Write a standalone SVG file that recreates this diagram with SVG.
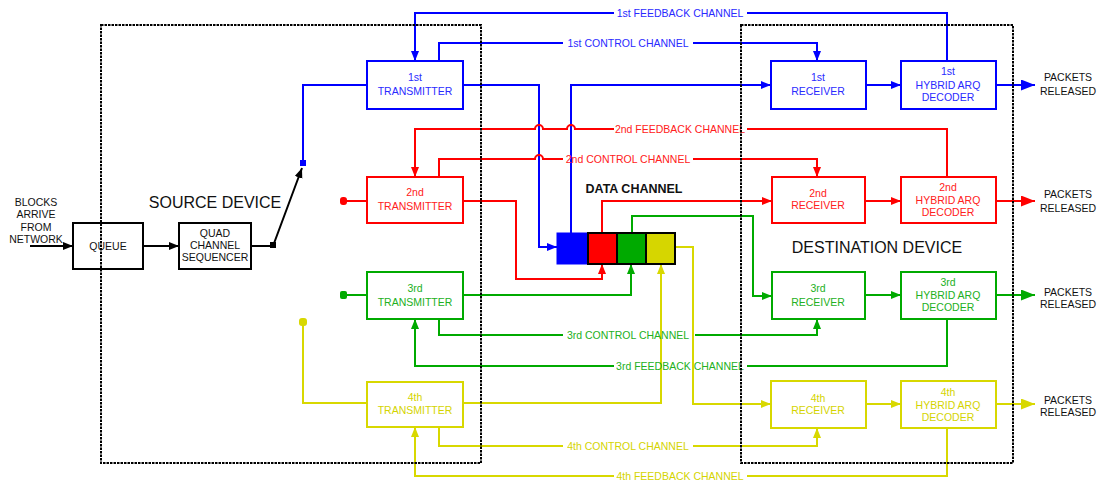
<svg xmlns="http://www.w3.org/2000/svg" width="1099" height="484" viewBox="0 0 1099 484">
<style>
text{font-family:"Liberation Sans",Arial,sans-serif;font-size:10.5px;text-anchor:middle}
.big{font-size:16px;fill:#111}
.blk{fill:#111}
.ln{fill:none;stroke-width:2}
.b{stroke:#0000ff}.r{stroke:#ff0000}.g{stroke:#00aa00}.y{stroke:#d8d800}.k{stroke:#000}
.tb{fill:#2a2aff}.tr{fill:#ff2020}.tg{fill:#22b022}.ty{fill:#d4d400}
.box{fill:#fff;stroke-width:2}
.dash{fill:none;stroke:#000;stroke-width:2;stroke-dasharray:2.5 1}
</style>
<defs>
<marker id="ab" markerUnits="userSpaceOnUse" markerWidth="12" markerHeight="10" refX="10" refY="4" orient="auto"><path d="M0,0 L10,4 L0,8 Z" fill="#0000ff"/></marker>
<marker id="ar" markerUnits="userSpaceOnUse" markerWidth="12" markerHeight="10" refX="10" refY="4" orient="auto"><path d="M0,0 L10,4 L0,8 Z" fill="#ff0000"/></marker>
<marker id="ag" markerUnits="userSpaceOnUse" markerWidth="12" markerHeight="10" refX="10" refY="4" orient="auto"><path d="M0,0 L10,4 L0,8 Z" fill="#00aa00"/></marker>
<marker id="ay" markerUnits="userSpaceOnUse" markerWidth="12" markerHeight="10" refX="10" refY="4" orient="auto"><path d="M0,0 L10,4 L0,8 Z" fill="#d8d800"/></marker>
<marker id="ak" markerUnits="userSpaceOnUse" markerWidth="12" markerHeight="10" refX="10" refY="4" orient="auto"><path d="M0,0 L10,4 L0,8 Z" fill="#000"/></marker>
<marker id="Bb" markerUnits="userSpaceOnUse" markerWidth="16" markerHeight="12" refX="14" refY="5.5" orient="auto"><path d="M0,0 L14,5.5 L0,11 Z" fill="#0000ff"/></marker>
<marker id="Br" markerUnits="userSpaceOnUse" markerWidth="16" markerHeight="12" refX="14" refY="5.5" orient="auto"><path d="M0,0 L14,5.5 L0,11 Z" fill="#ff0000"/></marker>
<marker id="Bg" markerUnits="userSpaceOnUse" markerWidth="16" markerHeight="12" refX="14" refY="5.5" orient="auto"><path d="M0,0 L14,5.5 L0,11 Z" fill="#00aa00"/></marker>
<marker id="By" markerUnits="userSpaceOnUse" markerWidth="16" markerHeight="12" refX="14" refY="5.5" orient="auto"><path d="M0,0 L14,5.5 L0,11 Z" fill="#d8d800"/></marker>
</defs>

<g id="connectors">
<path class="ln k" d="M30 246 H73" marker-end="url(#ak)"/>
<path class="ln k" d="M143 246 H179" marker-end="url(#ak)"/>
<path class="ln k" d="M251 246 H273 L302 168" marker-end="url(#ak)"/>
<rect x="270" y="242" width="6" height="6" fill="#000"/>
<path class="ln b" d="M303 164 V85 H367"/>
<rect x="300" y="160" width="6" height="6" fill="#0000ff"/>
<path class="ln b" d="M463 85 H539 V247 H557" marker-end="url(#ab)"/>
<path class="ln b" d="M571 233 V85 H771" marker-end="url(#ab)"/>
<path class="ln b" d="M866 85 H901" marker-end="url(#ab)"/>
<path class="ln b" d="M996 85 H1035" marker-end="url(#Bb)"/>
<path class="ln b" d="M947 61 V13 H747"/>
<path class="ln b" d="M614 13 H415 V61" marker-end="url(#ab)"/>
<path class="ln b" d="M439 61 V43 H563"/>
<path class="ln b" d="M693 43 H817 V61" marker-end="url(#ab)"/>
<path class="ln r" d="M344 201 H367"/>
<rect x="340" y="197" width="7" height="8" rx="3" fill="#ff0000"/>
<path class="ln r" d="M463 201 H516 V279 H602 V264" marker-end="url(#ar)"/>
<path class="ln r" d="M602 233 V201 H772" marker-end="url(#ar)"/>
<path class="ln r" d="M866 201 H901" marker-end="url(#ar)"/>
<path class="ln r" d="M996 201 H1035" marker-end="url(#Br)"/>
<path class="ln r" d="M947 177 V129 H747"/>
<path class="ln r" d="M614 129 H575 a4 4 0 0 0 -8 0 H543 a4 4 0 0 0 -8 0 H415 V177" marker-end="url(#ar)"/>
<path class="ln r" d="M439 177 V159 H535 a4 4 0 0 1 8 0 H563"/>
<path class="ln r" d="M693 159 H817 V177" marker-end="url(#ar)"/>
<path class="ln g" d="M344 295 H367"/>
<rect x="340" y="291" width="7" height="8" rx="2" fill="#00aa00"/>
<path class="ln g" d="M463 295 H631 V264" marker-end="url(#ag)"/>
<path class="ln g" d="M632 233 V216 H753 V296 H772" marker-end="url(#ag)"/>
<path class="ln g" d="M866 295 H901" marker-end="url(#ag)"/>
<path class="ln g" d="M996 295 H1035" marker-end="url(#Bg)"/>
<path class="ln g" d="M439 319 V335 H563"/>
<path class="ln g" d="M695 335 H817 V319" marker-end="url(#ag)"/>
<path class="ln g" d="M947 319 V366 H747"/>
<path class="ln g" d="M614 366 H415 V319" marker-end="url(#ag)"/>
<path class="ln y" d="M303 322 V403 H367"/>
<rect x="299" y="318" width="8" height="8" rx="3" fill="#d8d800"/>
<path class="ln y" d="M463 403 H661 V264" marker-end="url(#ay)"/>
<path class="ln y" d="M675 247 H693 V404 H771" marker-end="url(#ay)"/>
<path class="ln y" d="M866 404 H901" marker-end="url(#ay)"/>
<path class="ln y" d="M996 404 H1035" marker-end="url(#By)"/>
<path class="ln y" d="M439 427 V446 H563"/>
<path class="ln y" d="M693 446 H817 V428" marker-end="url(#ay)"/>
<path class="ln y" d="M947 428 V476 H747"/>
<path class="ln y" d="M614 476 H415 V427" marker-end="url(#ay)"/>
</g>

<g id="channel-labels">
<text class="tb" x="680" y="17">1st FEEDBACK CHANNEL</text>
<text class="tb" x="628" y="47">1st CONTROL CHANNEL</text>
<text class="tr" x="680" y="133">2nd FEEDBACK CHANNEL</text>
<text class="tr" x="628" y="163">2nd CONTROL CHANNEL</text>
<text class="tg" x="628" y="339">3rd CONTROL CHANNEL</text>
<text class="tg" x="680" y="370">3rd FEEDBACK CHANNEL</text>
<text class="ty" x="628" y="450">4th CONTROL CHANNEL</text>
<text class="ty" x="680" y="480">4th FEEDBACK CHANNEL</text>
</g>

<g id="input-label">
<text class="blk" x="36" y="206">BLOCKS</text>
<text class="blk" x="36" y="218">ARRIVE</text>
<text class="blk" x="36" y="231">FROM</text>
<text class="blk" x="36" y="243">NETWORK</text>
</g>

<g id="queue"><rect class="box k" x="73" y="223" width="70" height="46"/><text class="blk" x="108" y="250">QUEUE</text></g>
<g id="sequencer"><rect class="box k" x="179" y="223" width="72" height="46"/>
<text class="blk" x="215" y="237">QUAD</text><text class="blk" x="215" y="249">CHANNEL</text><text class="blk" x="215" y="261">SEQUENCER</text></g>

<g id="tx1"><rect class="box b" x="367" y="61" width="96" height="48"/><text class="tb" x="415" y="81">1st</text><text class="tb" x="415" y="95">TRANSMITTER</text></g>
<g id="tx2"><rect class="box r" x="367" y="177" width="96" height="46"/><text class="tr" x="415" y="196">2nd</text><text class="tr" x="415" y="210">TRANSMITTER</text></g>
<g id="tx3"><rect class="box g" x="367" y="272" width="96" height="47"/><text class="tg" x="415" y="292">3rd</text><text class="tg" x="415" y="306">TRANSMITTER</text></g>
<g id="tx4"><rect class="box y" x="367" y="382" width="96" height="45"/><text class="ty" x="415" y="401">4th</text><text class="ty" x="415" y="414">TRANSMITTER</text></g>

<g id="rx1"><rect class="box b" x="771" y="61" width="95" height="48"/><text class="tb" x="818" y="81">1st</text><text class="tb" x="818" y="95">RECEIVER</text></g>
<g id="rx2"><rect class="box r" x="772" y="177" width="93" height="46"/><text class="tr" x="818" y="197">2nd</text><text class="tr" x="818" y="209">RECEIVER</text></g>
<g id="rx3"><rect class="box g" x="772" y="272" width="93" height="47"/><text class="tg" x="818" y="292">3rd</text><text class="tg" x="818" y="306">RECEIVER</text></g>
<g id="rx4"><rect class="box y" x="771" y="381" width="95" height="47"/><text class="ty" x="818" y="402">4th</text><text class="ty" x="818" y="414">RECEIVER</text></g>

<g id="dec1"><rect class="box b" x="901" y="61" width="95" height="48"/><text class="tb" x="948" y="75">1st</text><text class="tb" x="948" y="89">HYBRID ARQ</text><text class="tb" x="948" y="101">DECODER</text></g>
<g id="dec2"><rect class="box r" x="901" y="177" width="95" height="46"/><text class="tr" x="948" y="191">2nd</text><text class="tr" x="948" y="204">HYBRID ARQ</text><text class="tr" x="948" y="216">DECODER</text></g>
<g id="dec3"><rect class="box g" x="901" y="272" width="95" height="47"/><text class="tg" x="948" y="286">3rd</text><text class="tg" x="948" y="299">HYBRID ARQ</text><text class="tg" x="948" y="311">DECODER</text></g>
<g id="dec4"><rect class="box y" x="901" y="381" width="95" height="47"/><text class="ty" x="948" y="396">4th</text><text class="ty" x="948" y="409">HYBRID ARQ</text><text class="ty" x="948" y="421">DECODER</text></g>

<g id="out1"><text class="blk" x="1068" y="81">PACKETS</text><text class="blk" x="1068" y="95">RELEASED</text></g>
<g id="out2"><text class="blk" x="1068" y="198">PACKETS</text><text class="blk" x="1068" y="212">RELEASED</text></g>
<g id="out3"><text class="blk" x="1068" y="296">PACKETS</text><text class="blk" x="1068" y="308">RELEASED</text></g>
<g id="out4"><text class="blk" x="1068" y="404">PACKETS</text><text class="blk" x="1068" y="416">RELEASED</text></g>

<g id="data-channel">
<text x="634" y="193" style="font-weight:bold;font-size:12.5px;fill:#111">DATA CHANNEL</text>
<rect x="557" y="233" width="31" height="31" fill="#0000ff" stroke="#0000ff" stroke-width="1"/>
<rect x="588" y="233" width="29" height="31" fill="#ff0000" stroke="#000" stroke-width="2"/>
<rect x="617" y="233" width="29" height="31" fill="#00aa00" stroke="#000" stroke-width="2"/>
<rect x="646" y="233" width="29" height="31" fill="#d6d600" stroke="#000" stroke-width="2"/>
</g>

<g id="source-device">
<rect class="dash" x="101" y="25" width="380" height="438"/>
<text class="big" x="215" y="208">SOURCE DEVICE</text>
</g>
<g id="destination-device">
<rect class="dash" x="741" y="25" width="272" height="438"/>
<text class="big" x="877" y="253">DESTINATION DEVICE</text>
</g>
</svg>
